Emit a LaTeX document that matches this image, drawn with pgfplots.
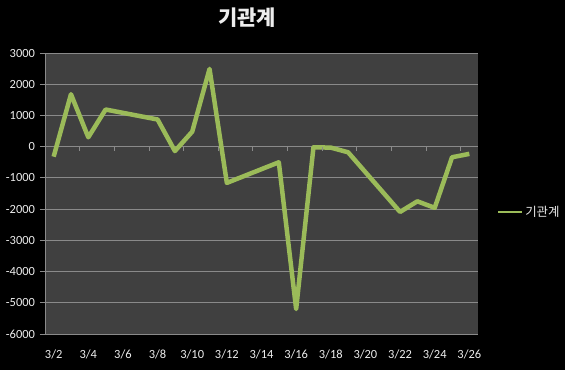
\documentclass[border=0pt]{standalone}
\usepackage{pgfplots}
\pgfplotsset{compat=1.18}
\usepackage{fontspec}
\setmainfont{Carlito}
\newfontfamily\kr{Noto Sans CJK KR}
\definecolor{plotbg}{HTML}{404040}
\definecolor{gridc}{HTML}{8A8A8A}
\definecolor{linec}{HTML}{9BBB59}
\definecolor{txt}{HTML}{EDEDED}
\begin{document}
\begin{tikzpicture}
\fill[black] (0,0) rectangle (565bp,370bp);
\useasboundingbox (0,0) rectangle (565bp,370bp);
\node[text=txt, font=\kr\bfseries\fontsize{21}{25}\selectfont] at (247bp,352bp) {기관계};
\begin{axis}[
  at={(45bp,36bp)}, anchor=south west,
  scale only axis, width=433bp, height=281bp,
  xmin=1.5, xmax=26.5, ymin=-6000, ymax=3000,
  axis background/.style={fill=plotbg},
  axis x line*=bottom, axis y line*=left,
  axis line style={gridc, line width=0.8bp},
  xtick={2,4,...,26},
  xticklabels={3/2,3/4,3/6,3/8,3/10,3/12,3/14,3/16,3/18,3/20,3/22,3/24,3/26},
  ytick={-6000,-5000,...,3000},
  ymajorgrids, grid style={gridc, line width=0.8bp},
  major x tick style={draw=none},
  major y tick style={gridc, line width=0.8bp},
  tick align=outside, major tick length=5bp,
  scaled y ticks=false,
  /pgf/number format/assume math mode=true,
  /pgf/number format/1000 sep={},
  ticklabel style={text=txt, font=\fontsize{12.5}{14}\selectfont},
  xticklabel style={yshift=-7bp},
  yticklabel style={xshift=-1.5bp},
  legend style={at={(1.044,0.434)}, anchor=west, draw=none, fill=none,
    text=txt, font=\kr\fontsize{12.5}{14}\selectfont, inner sep=0pt,
    legend cell align=left},
  legend image code/.code={\draw[linec, line width=2bp] (0bp,0bp) -- (24bp,0bp);},
  clip=false,
]
\addplot[linec, line width=4.5bp, line join=round] coordinates {
(2,-320) (3,1680) (4,300) (5,1190) (8,870) (9,-140) (10,480) (11,2490)
(12,-1160) (15,-500) (16,-5200) (17,-20) (18,-30) (19,-180) (22,-2090)
(23,-1750) (24,-1960) (25,-340) (26,-230)
};
\addlegendentry{기관계}
\end{axis}
\begin{axis}[
  at={(45bp,36bp)}, anchor=south west,
  scale only axis, width=433bp, height=281bp,
  xmin=1.5, xmax=26.5, ymin=-6000, ymax=3000,
  axis x line=middle, axis y line=none,
  axis line style={draw=none},
  xtick={3.5,5.5,...,25.5}, xticklabels={},
  tick align=outside, major tick length=4bp,
  major x tick style={gridc, line width=0.8bp},
]
\addplot[draw=none] coordinates {(2,0)};
\end{axis}
\end{tikzpicture}
\end{document}
